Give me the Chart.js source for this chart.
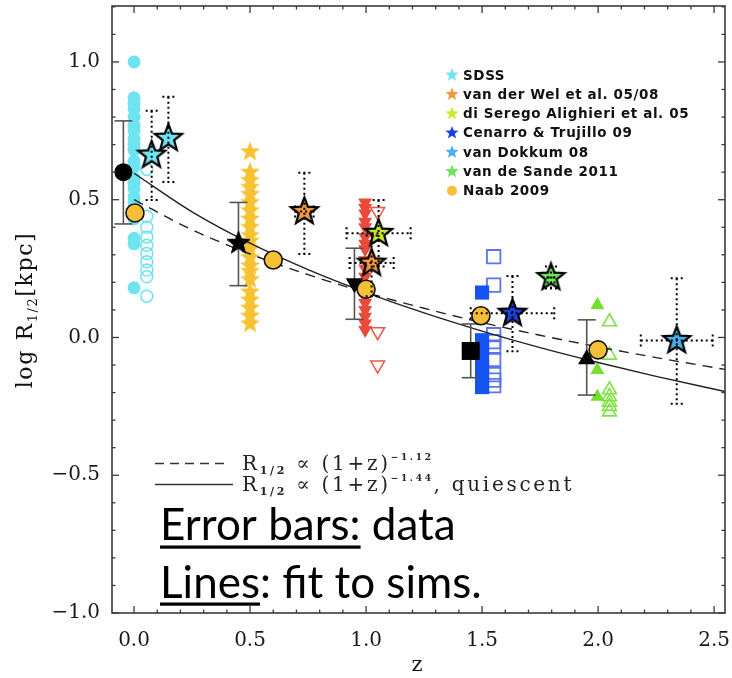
<!DOCTYPE html>
<html>
<head>
<meta charset="utf-8">
<title>Size evolution of early-type galaxies</title>
<script src="https://cdn.jsdelivr.net/npm/chart.js@4.4.1/dist/chart.umd.min.js"></script>
<style>
  html, body { margin: 0; padding: 0; background: #fff; }
  canvas { display: block; }
</style>
</head>
<body>
<canvas id="chart" width="732" height="678"></canvas>
<script>
// ---------------- axes ----------------
const zRange = [-0.095, 2.547];
const logRRange = [-1.0, 1.203];
const zTickValues = [0.0, 0.5, 1.0, 1.5, 2.0, 2.5];
const zTickLabels = ['0.0', '0.5', '1.0', '1.5', '2.0', '2.5'];
const logRTickValues = [-1.0, -0.5, 0.0, 0.5, 1.0];
const logRTickLabels = ['\u22121.0', '\u22120.5', '0.0', '0.5', '1.0'];

// ---------------- individual galaxies, one redshift per column ----------------
const z00Filled = 0.0;
const logR00Filled = [1.0, 0.87, 0.85, 0.83, 0.80, 0.77, 0.75, 0.72, 0.70, 0.68, 0.64, 0.62, 0.58, 0.56, 0.54, 0.51, 0.49, 0.46, 0.43, 0.36, 0.34, 0.18];
const z00Open = 0.055;
const logR00Open = [0.61, 0.44, 0.40, 0.365, 0.335, 0.305, 0.275, 0.245, 0.22, 0.15];
const z05Stars = 0.5;
const logR05Stars = [0.674, 0.60, 0.57, 0.545, 0.52, 0.49, 0.46, 0.43, 0.40, 0.37, 0.35, 0.32, 0.29, 0.26, 0.24, 0.21, 0.165, 0.136, 0.107, 0.078, 0.05];
const z10Filled = 0.996;
const logR10Filled = [0.49, 0.47, 0.45, 0.42, 0.40, 0.365, 0.34, 0.32, 0.28, 0.25, 0.22, 0.19, 0.147, 0.125, 0.10, 0.075, 0.051, 0.027];
const z10Open = 1.05;
const logR10Open = [0.457, 0.021, -0.10];
const z15Filled = 1.5;
const logR15Filled = [0.163, -0.01, -0.04, -0.07, -0.10, -0.13, -0.16, -0.18];
const z15Open = 1.55;
const logR15Open = [0.293, 0.19, 0.01, -0.015, -0.035, -0.08, -0.135, -0.155, -0.175];
const z20Filled = 1.997;
const logR20Filled = [0.118, -0.118, -0.215];
const z20Open = 2.049;
const logR20Open = [0.057, -0.064, -0.19, -0.215, -0.235, -0.25, -0.27];

// ---------------- simulation medians (black) with scatter ----------------
const simZ = [-0.046, 0.45, 0.95, 1.451, 1.951];
const simLogR = [0.60, 0.342, 0.197, -0.049, -0.079];
const simErrLo = [0.188, 0.154, 0.131, 0.097, 0.13];
const simErrHi = [0.186, 0.148, 0.127, 0.098, 0.143];

// ---------------- Naab 2009 ----------------
const naabZ = [0.004, 0.6, 1.0, 1.495, 2.0];
const naabLogR = [0.452, 0.281, 0.175, 0.079, -0.045];

// ---------------- observational compilations (stars, dotted errors) ----------------
const sdssZ = [0.076, 0.148];
const sdssLogR = [0.662, 0.723];
const sdssZErr = [0, 0];
const sdssErrLo = [0.163, 0.159];
const sdssErrHi = [0.161, 0.151];

const vdwZ = [0.734, 1.024];
const vdwLogR = [0.457, 0.27];
const vdwZErr = [0.04, 0.095];
const vdwErrLo = [0.154, 0.12];
const vdwErrHi = [0.141, 0.10];

const dsaZ = [1.054];
const dsaLogR = [0.378];
const dsaZErr = [0.138];
const dsaErrLo = [0.12];
const dsaErrHi = [0.121];

const ctZ = [1.631];
const ctLogR = [0.088];
const ctZErr = [0.18];
const ctErrLo = [0.138];
const ctErrHi = [0.135];

const vdkZ = [2.339];
const vdkLogR = [-0.011];
const vdkZErr = [0.155];
const vdkErrLo = [0.23];
const vdkErrHi = [0.226];

const vdsZ = [1.797];
const vdsLogR = [0.218];
const vdsZErr = [0.015];
const vdsErrLo = [0.04];
const vdsErrHi = [0.04];

// ---------------- power-law fits to the simulations ----------------
const fitZ = [0, 0.25, 0.5, 0.75, 1.0, 1.25, 1.5, 1.75, 2.0, 2.25, 2.547];
const fitAllLogR = [0.5, 0.391, 0.303, 0.228, 0.163, 0.106, 0.054, 0.008, -0.034, -0.073, -0.116];
const fitQuiescentLogR = [0.596, 0.456, 0.342, 0.246, 0.163, 0.089, 0.023, -0.037, -0.091, -0.141, -0.196];

// ---------------- legend ----------------
const legendNames = ['SDSS', 'van der Wel et al. 05/08', 'di Serego Alighieri et al. 05', 'Cenarro & Trujillo 09', 'van Dokkum 08', 'van de Sande 2011', 'Naab 2009'];
const legendColors = ['#6fe3f3', '#f59a3e', '#c8ec2a', '#1b3fe6', '#42b2f2', '#6ee25a', '#f8c03a'];
const legendMarks = ['star', 'star', 'star', 'star', 'star', 'star', 'circle'];

// ---------------- helpers ----------------
function column(z, ys) { return ys.map(y => ({ x: z, y })); }
function pairs(xs, ys) { return xs.map((x, i) => ({ x, y: ys[i] })); }

function starPath(g, cx, cy, R) {
  g.beginPath();
  for (let i = 0; i < 10; i++) {
    const a = -Math.PI / 2 + i * Math.PI / 5;
    const r = i % 2 === 0 ? R : R * 0.42;
    const px = cx + r * Math.cos(a), py = cy + r * Math.sin(a);
    if (i === 0) g.moveTo(px, py); else g.lineTo(px, py);
  }
  g.closePath();
}

// five-pointed star sprite used as a point style
function starSprite(width, fill, stroke, lw) {
  const R = width / 1.902;
  const pad = Math.ceil(lw + 2);
  const c = document.createElement('canvas');
  c.width = c.height = Math.ceil(2 * R + 2 * pad);
  const g = c.getContext('2d');
  starPath(g, c.width / 2, c.height / 2, R);
  g.fillStyle = fill;
  g.fill();
  if (lw > 0) {
    g.lineJoin = 'miter';
    g.lineWidth = lw;
    g.strokeStyle = stroke;
    g.stroke();
  }
  return c;
}

const goldStar = starSprite(20, '#f7c232', null, 0);
const blackStar = starSprite(23, '#000000', '#000000', 1);

function sampleSet(label, data, style, opts) {
  return Object.assign({
    label, data, order: 10, pointStyle: style,
    pointRadius: 6, borderWidth: 0, backgroundColor: '#000', borderColor: '#000'
  }, opts);
}

function surveySet(label, xs, ys, fill) {
  return {
    label, data: pairs(xs, ys), order: 1,
    pointStyle: starSprite(27, fill, '#000', 2.2), pointRadius: 12
  };
}

const datasets = [
  surveySet('SDSS', sdssZ, sdssLogR, '#6fe3f3'),
  surveySet('van der Wel et al. 05/08', vdwZ, vdwLogR, '#f29a3c'),
  surveySet('di Serego Alighieri et al. 05', dsaZ, dsaLogR, '#c5ea28'),
  surveySet('Cenarro & Trujillo 09', ctZ, ctLogR, '#1b40e0'),
  surveySet('van Dokkum 08', vdkZ, vdkLogR, '#42b0ee'),
  surveySet('van de Sande 2011', vdsZ, vdsLogR, '#6ee25a'),
  {
    label: 'Naab 2009', data: pairs(naabZ, naabLogR), order: 2,
    pointStyle: 'circle', pointRadius: 9, borderWidth: 1.6,
    backgroundColor: '#f6bf35', borderColor: '#111'
  },
  {
    label: 'simulations', data: pairs(simZ, simLogR), order: 3,
    pointStyle: ['circle', blackStar, 'triangle', 'rect', 'triangle'],
    pointRotation: [0, 0, 180, 0, 0],
    pointRadius: [9, 11, 10, 12.7, 10],
    borderWidth: 0, backgroundColor: '#000', borderColor: '#000'
  },
  {
    label: 'fit quiescent', data: pairs(fitZ, fitQuiescentLogR), order: 5,
    showLine: true, pointRadius: 0, borderColor: '#222', borderWidth: 1.4,
    cubicInterpolationMode: 'monotone', fill: false
  },
  {
    label: 'fit all', data: pairs(fitZ, fitAllLogR), order: 5,
    showLine: true, pointRadius: 0, borderColor: '#222', borderWidth: 1.4,
    borderDash: [10, 7], cubicInterpolationMode: 'monotone', fill: false
  },
  sampleSet('z0 filled', column(z00Filled, logR00Filled), 'circle', { pointRadius: 6.5, backgroundColor: '#6ee4f1' }),
  sampleSet('z0 open', column(z00Open, logR00Open), 'circle', { pointRadius: 6, borderWidth: 1.5, backgroundColor: 'rgba(255,255,255,0)', borderColor: '#6ee4f1' }),
  sampleSet('z0.5 stars', column(z05Stars, logR05Stars), goldStar, { pointRadius: 9 }),
  sampleSet('z1 filled', column(z10Filled, logR10Filled), 'triangle', { pointRotation: 180, pointRadius: 8, backgroundColor: '#ea4a3a' }),
  sampleSet('z1 open', column(z10Open, logR10Open), 'triangle', { pointRotation: 180, pointRadius: 8, borderWidth: 1.5, backgroundColor: 'rgba(255,255,255,0)', borderColor: '#ee5545' }),
  sampleSet('z1.5 filled', column(z15Filled, logR15Filled), 'rect', { pointRadius: 10, backgroundColor: '#1554f2' }),
  sampleSet('z1.5 open', column(z15Open, logR15Open), 'rect', { pointRadius: 9.5, borderWidth: 1.8, backgroundColor: 'rgba(255,255,255,0)', borderColor: '#5a74f2' }),
  sampleSet('z2 filled', column(z20Filled, logR20Filled), 'triangle', { pointRadius: 8, backgroundColor: '#74e02a' }),
  sampleSet('z2 open', column(z20Open, logR20Open), 'triangle', { pointRadius: 8, borderWidth: 1.6, backgroundColor: 'rgba(255,255,255,0)', borderColor: '#80e245' })
];

// dotted error crosses on the observational points
const surveyErrors = [
  [sdssZ, sdssLogR, sdssZErr, sdssErrLo, sdssErrHi],
  [vdwZ, vdwLogR, vdwZErr, vdwErrLo, vdwErrHi],
  [dsaZ, dsaLogR, dsaZErr, dsaErrLo, dsaErrHi],
  [ctZ, ctLogR, ctZErr, ctErrLo, ctErrHi],
  [vdkZ, vdkLogR, vdkZErr, vdkErrLo, vdkErrHi],
  [vdsZ, vdsLogR, vdsZErr, vdsErrLo, vdsErrHi]
];

function seg(ctx, x1, y1, x2, y2) {
  ctx.beginPath(); ctx.moveTo(x1, y1); ctx.lineTo(x2, y2); ctx.stroke();
}

const errorBars = {
  id: 'errorBars',
  beforeDatasetDraw(chart, args) {
    if (chart.data.datasets[args.index].label !== 'simulations') return;
    const { ctx, scales: { x, y } } = chart;
    ctx.save();
    ctx.strokeStyle = '#555';
    ctx.lineWidth = 1.6;
    simZ.forEach((z, i) => {
      const px = x.getPixelForValue(z);
      const top = y.getPixelForValue(simLogR[i] + simErrHi[i]);
      const bot = y.getPixelForValue(simLogR[i] - simErrLo[i]);
      seg(ctx, px, top, px, bot);
      seg(ctx, px - 9, top, px + 9, top);
      seg(ctx, px - 9, bot, px + 9, bot);
    });
    ctx.restore();
  },
  afterDatasetsDraw(chart) {
    const { ctx, scales: { x, y } } = chart;
    ctx.save();
    ctx.strokeStyle = '#000';
    ctx.lineWidth = 2;
    ctx.setLineDash([2, 3]);
    surveyErrors.forEach(([zs, rs, ze, lo, hi]) => {
      zs.forEach((z, i) => {
        const px = x.getPixelForValue(z);
        const py = y.getPixelForValue(rs[i]);
        const top = y.getPixelForValue(rs[i] + hi[i]);
        const bot = y.getPixelForValue(rs[i] - lo[i]);
        seg(ctx, px, top, px, bot);
        seg(ctx, px - 6, top, px + 6, top);
        seg(ctx, px - 6, bot, px + 6, bot);
        if (ze[i] > 0) {
          const l = x.getPixelForValue(z - ze[i]);
          const r = x.getPixelForValue(z + ze[i]);
          seg(ctx, l, py, r, py);
          seg(ctx, l, py - 6, l, py + 6);
          seg(ctx, r, py - 6, r, py + 6);
        }
      });
    });
    ctx.restore();
  }
};

// boxed frame with inward major/minor ticks on all four sides
const frame = {
  id: 'frame',
  afterDatasetsDraw(chart) {
    const { ctx, chartArea: a, scales: { x, y } } = chart;
    ctx.save();
    ctx.strokeStyle = '#3a3a3a';
    ctx.lineWidth = 1.6;
    ctx.strokeRect(a.left, a.top, a.right - a.left, a.bottom - a.top);
    ctx.lineWidth = 1.3;
    for (let k = Math.ceil(zRange[0] * 10); k <= Math.floor(zRange[1] * 10); k++) {
      const px = x.getPixelForValue(k / 10);
      const len = k % 5 === 0 ? 7 : 3.5;
      seg(ctx, px, a.bottom, px, a.bottom - len);
      seg(ctx, px, a.top, px, a.top + len);
    }
    for (let k = Math.ceil(logRRange[0] * 10); k <= Math.floor(logRRange[1] * 10); k++) {
      const py = y.getPixelForValue(k / 10);
      const len = k % 5 === 0 ? 7 : 3.5;
      seg(ctx, a.left, py, a.left + len, py);
      seg(ctx, a.right, py, a.right - len, py);
    }
    ctx.restore();
  }
};

function drawRuns(ctx, runs, x, y) {
  // runs: [text, font, dy]
  let cx = x;
  runs.forEach(([t, font, dy]) => {
    ctx.font = font;
    ctx.fillText(t, cx, y + dy);
    cx += ctx.measureText(t).width;
  });
  return cx;
}
function runsWidth(ctx, runs) {
  let w = 0;
  runs.forEach(([t, font]) => { ctx.font = font; w += ctx.measureText(t).width; });
  return w;
}

const annotations = {
  id: 'annotations',
  afterDraw(chart) {
    const { ctx } = chart;
    ctx.save();
    ctx.fillStyle = '#111';
    ctx.textBaseline = 'alphabetic';
    ctx.textAlign = 'left';

    // y-axis title
    const yRuns = [['log R', '22px "DejaVu Serif"', 0], ['1/2', '13px "DejaVu Serif"', 5], ['[kpc]', '22px "DejaVu Serif"', 0]];
    ctx.save();
    ctx.letterSpacing = '1.6px';
    const yw = runsWidth(ctx, yRuns);
    ctx.translate(32, 310);
    ctx.rotate(-Math.PI / 2);
    drawRuns(ctx, yRuns, -yw / 2, 0);
    ctx.restore();

    // x-axis title
    ctx.font = '21px "DejaVu Serif"';
    ctx.textAlign = 'center';
    ctx.fillText('z', 417, 671);
    ctx.textAlign = 'left';

    // survey legend
    ctx.save();
    ctx.font = 'bold 13.5px "DejaVu Sans"';
    ctx.letterSpacing = '0.6px';
    ctx.textBaseline = 'middle';
    legendNames.forEach((name, i) => {
      const ly = 75 + i * 19.3;
      ctx.fillStyle = legendColors[i];
      if (legendMarks[i] === 'star') {
        starPath(ctx, 452, ly, 7);
        ctx.fill();
      } else {
        ctx.beginPath(); ctx.arc(452, ly, 5, 0, Math.PI * 2); ctx.fill();
      }
      ctx.fillStyle = '#111';
      ctx.fillText(name, 463, ly + 1);
    });
    ctx.restore();

    // fit-line key
    ctx.save();
    ctx.strokeStyle = '#333';
    ctx.lineWidth = 1.3;
    ctx.setLineDash([9, 6]);
    seg(ctx, 155, 463.5, 228, 463.5);
    ctx.setLineDash([]);
    seg(ctx, 155, 484.5, 233, 484.5);
    ctx.fillStyle = '#222';
    ctx.letterSpacing = '2.7px';
    const big = '20px "DejaVu Serif"', sub = 'bold 11px "DejaVu Serif"', sup = 'bold 9px "DejaVu Serif"';
    drawRuns(ctx, [['R', big, 0], ['1/2', sub, 4], [' \u221D (1+z)', big, 0], ['\u22121.12', sup, -10]], 242, 470);
    drawRuns(ctx, [['R', big, 0], ['1/2', sub, 4], [' \u221D (1+z)', big, 0], ['\u22121.44', sup, -10], [', quiescent', big, 0]], 242, 491);
    ctx.restore();

    // notes
    ctx.save();
    ctx.fillStyle = '#000';
    const note = '44px Lato';
    let end = drawRuns(ctx, [['Error bars:', note, 0]], 160, 540);
    ctx.fillRect(160, 545.5, end - 160, 3.2);
    drawRuns(ctx, [[' data', note, 0]], end, 540);
    end = drawRuns(ctx, [['Lines', note, 0]], 160, 598);
    ctx.fillRect(160, 602.5, end - 160, 3.2);
    drawRuns(ctx, [[': fit to sims.', note, 0]], end, 598);
    ctx.restore();

    ctx.restore();
  }
};

new Chart(document.getElementById('chart'), {
  type: 'scatter',
  data: { datasets },
  options: {
    responsive: false,
    animation: false,
    devicePixelRatio: 1,
    layout: { padding: 0, autoPadding: false },
    plugins: { legend: { display: false }, tooltip: { enabled: false } },
    elements: { line: { tension: 0 } },
    scales: {
      x: {
        type: 'linear', min: zRange[0], max: zRange[1],
        grid: { display: false, drawTicks: false }, border: { display: false },
        afterBuildTicks(s) { s.ticks = zTickValues.map(v => ({ value: v })); },
        afterFit(s) { s.height = 65; s.paddingLeft = 0; s.paddingRight = 7; },
        ticks: {
          autoSkip: false, maxRotation: 0, padding: 16, color: '#1a1a1a',
          font: { family: 'DejaVu Serif', size: 20 },
          callback(v) { const i = zTickValues.findIndex(t => Math.abs(t - v) < 1e-6); return i >= 0 ? zTickLabels[i] : ''; }
        }
      },
      y: {
        type: 'linear', min: logRRange[0], max: logRRange[1],
        grid: { display: false, drawTicks: false }, border: { display: false },
        afterBuildTicks(s) { s.ticks = logRTickValues.map(v => ({ value: v })); },
        afterFit(s) { s.width = 112; s.paddingTop = 6; s.paddingBottom = 0; },
        ticks: {
          autoSkip: false, padding: 12, color: '#1a1a1a',
          font: { family: 'DejaVu Serif', size: 20 },
          callback(v) { const i = logRTickValues.findIndex(t => Math.abs(t - v) < 1e-6); return i >= 0 ? logRTickLabels[i] : ''; }
        }
      }
    }
  },
  plugins: [errorBars, frame, annotations]
});
</script>
</body>
</html>
